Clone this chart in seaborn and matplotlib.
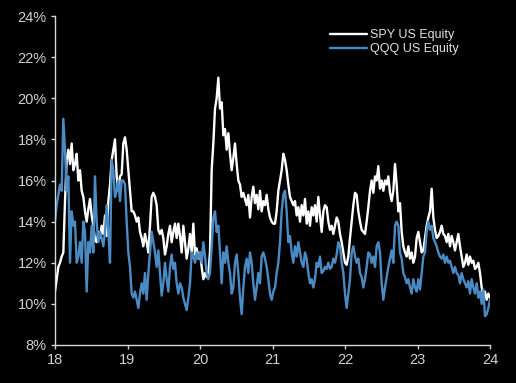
import numpy as np
import pandas as pd
import seaborn as sns
import matplotlib.pyplot as plt

# Implied volatility (%), roughly weekly from Jan-2018 to Jan-2024
spy = [10.6, 11.2, 11.8, 12.0, 12.3, 12.5, 15.0, 17.0, 17.5, 16.8, 17.8, 16.5, 16.8, 17.3, 16.0, 16.5,
       15.5, 15.2, 14.5, 14.0, 14.6, 15.1, 14.3, 13.8, 13.1, 13.0, 13.5, 13.2, 13.8, 13.4, 14.3, 13.3,
       15.0, 15.8, 17.0, 17.5, 18.0, 16.2, 15.5, 16.2, 16.3, 17.8, 18.1, 17.5, 16.5, 15.5, 14.5, 14.5,
       14.3, 14.0, 14.2, 13.5, 13.2, 12.8, 13.4, 13.0, 12.5, 13.8, 15.2, 15.4, 15.2, 14.8, 13.6, 13.4,
       13.6, 13.2, 12.4, 12.8, 13.4, 13.8, 13.0, 13.5, 13.9, 13.2, 13.9, 13.3, 12.5, 13.8, 13.0, 12.2,
       12.7, 13.4, 12.5, 13.9, 12.4, 12.7, 12.2, 12.5, 11.8, 11.2, 11.5, 11.3, 11.5, 12.5, 16.5, 17.8,
       19.5, 20.0, 21.0, 19.5, 19.8, 18.2, 18.5, 17.5, 18.3, 17.3, 16.5, 17.1, 17.8, 16.8, 16.0, 15.8,
       15.2, 15.4, 15.1, 14.8, 15.3, 14.2, 15.2, 15.7, 14.9, 15.3, 14.6, 15.5, 14.5, 15.0, 14.8, 15.3,
       14.6, 14.2, 14.0, 13.9, 13.9, 14.5, 15.5, 16.0, 16.5, 17.3, 17.0, 16.5, 15.8, 15.2, 15.0, 14.8,
       15.0, 14.3, 14.7, 14.0, 14.8, 14.3, 15.1, 13.9, 14.5, 13.8, 14.7, 14.3, 14.8, 14.0, 15.2, 14.3,
       13.5, 14.5, 14.8, 14.7, 14.0, 13.6, 13.8, 13.4, 13.8, 14.2, 14.0, 13.4, 13.0, 12.5, 12.0, 11.9,
       12.3, 13.2, 14.0, 14.8, 15.4, 15.3, 14.5, 14.0, 13.6, 13.5, 13.4, 14.0, 14.7, 15.5, 16.0, 15.4,
       16.2, 16.0, 16.7, 15.6, 16.0, 15.5, 16.0, 15.8, 16.2, 15.4, 15.0, 15.5, 16.8, 15.8, 14.5, 14.9,
       13.5, 12.8, 12.5, 12.3, 12.8, 12.2, 12.5, 12.0, 12.3, 13.2, 13.5, 13.0, 12.5, 12.6, 13.2, 13.8,
       14.2, 14.5, 15.6, 14.2, 13.6, 13.2, 13.3, 13.5, 13.8, 13.4, 13.3, 13.0, 13.4, 12.8, 13.3, 13.0,
       12.6, 13.0, 13.4, 12.8, 12.3, 11.8, 12.0, 12.4, 11.9, 12.3, 12.0, 12.1, 11.7, 11.8, 12.0, 11.5,
       10.8, 10.4, 10.6, 10.2, 10.5, 10.3]

qqq = [14.0, 14.8, 15.3, 15.8, 15.5, 19.0, 17.5, 15.5, 16.2, 12.0, 14.5, 13.8, 14.0, 12.0, 12.3, 13.0,
       12.0, 14.0, 13.5, 10.6, 13.0, 12.5, 13.8, 12.5, 16.2, 14.0, 13.0, 13.5, 13.2, 12.8, 13.5, 14.8,
       13.5, 12.0, 17.0, 16.5, 15.2, 15.5, 16.0, 15.0, 16.0, 16.0, 15.8, 14.0, 12.5, 11.8, 10.5, 10.3,
       10.6, 10.2, 9.8, 10.5, 11.0, 10.5, 11.5, 10.2, 11.5, 12.5, 13.5, 13.0, 12.5, 11.8, 12.6, 11.5,
       10.4, 11.0, 12.0, 11.2, 10.6, 11.8, 12.4, 11.7, 12.0, 11.0, 10.5, 11.0, 10.8, 10.3, 10.0, 9.7,
       10.3, 11.0, 12.5, 12.3, 12.0, 12.5, 12.2, 12.5, 12.0, 13.0, 12.3, 11.5, 11.2, 11.5, 12.8, 14.2,
       14.5, 13.5, 13.8, 12.5, 11.0, 12.5, 12.0, 12.8, 12.0, 11.5, 10.5, 10.8, 12.0, 12.4, 11.5, 10.3,
       9.5, 10.8, 11.8, 12.2, 11.5, 12.5, 12.0, 11.0, 10.2, 10.8, 11.5, 11.0, 12.3, 12.5, 12.2, 11.8,
       11.2, 10.5, 10.2, 10.6, 10.8, 11.5, 12.0, 13.0, 14.5, 15.3, 15.5, 14.5, 13.0, 13.3, 12.5, 12.0,
       12.8, 12.3, 13.0, 12.5, 12.0, 11.8, 12.5, 12.2, 11.5, 11.0, 11.2, 10.8, 11.2, 12.0, 11.8, 12.3,
       11.5, 11.6, 11.8, 11.7, 12.0, 11.7, 11.8, 12.2, 12.0, 12.4, 13.0, 12.8, 12.0, 11.5, 10.5, 9.8,
       10.5, 11.2, 12.5, 12.8, 12.3, 12.0, 12.2, 11.5, 11.3, 10.8, 11.2, 11.8, 12.5, 12.4, 12.0, 12.3,
       11.8, 12.8, 13.0, 12.5, 11.0, 10.2, 10.8, 11.3, 11.8, 12.2, 12.6, 12.0, 13.8, 14.0, 13.8, 12.5,
       12.2, 11.5, 11.3, 11.0, 11.2, 10.8, 10.5, 11.2, 10.8, 10.6, 11.2, 10.7, 11.5, 12.3, 12.5, 13.5,
       14.0, 13.6, 13.8, 13.2, 13.0, 12.8, 12.5, 12.3, 12.2, 12.4, 12.0, 12.3, 12.0, 12.1, 11.8, 11.5,
       11.8, 11.5, 11.4, 11.0, 11.5, 11.2, 11.0, 10.8, 11.1, 10.5, 11.2, 10.8, 10.5, 11.0, 10.3, 10.6,
       10.0, 10.7, 9.4, 9.5, 9.8, 10.2]

series_names = ['SPY US Equity', 'QQQ US Equity']
year_ticks = [18, 19, 20, 21, 22, 23, 24]
y_ticks = [8, 10, 12, 14, 16, 18, 20, 22, 24]

df = pd.concat([
    pd.DataFrame({'year': np.linspace(18, 24, len(spy)), 'vol': spy, 'series': series_names[0]}),
    pd.DataFrame({'year': np.linspace(18, 24, len(qqq)), 'vol': qqq, 'series': series_names[1]}),
])

sns.set_style('dark')
plt.rcParams['font.family'] = ['Liberation Sans', 'DejaVu Sans']

fig, ax = plt.subplots(figsize=(5.16, 3.83), dpi=100)
fig.patch.set_facecolor('black')
ax.set_facecolor('black')
fig.subplots_adjust(left=55/516, right=490/516, bottom=1-345/383, top=1-16/383)

sns.lineplot(data=df, x='year', y='vol', hue='series',
             palette={series_names[0]: 'white', series_names[1]: '#4a8bc4'},
             linewidth=1.7, ax=ax)

ax.set_xlim(18, 24)
ax.set_ylim(8, 24)
ax.set_xticks(year_ticks)
ax.set_xticklabels([str(y) for y in year_ticks])
ax.set_yticks(y_ticks)
ax.set_yticklabels([f'{y}%' for y in y_ticks])
ax.set_xlabel('')
ax.set_ylabel('')
ax.grid(False)

for side in ['top', 'right']:
    ax.spines[side].set_visible(False)
for side in ['left', 'bottom']:
    ax.spines[side].set_visible(True)
    ax.spines[side].set_color('#d8d8d8')
    ax.spines[side].set_linewidth(1.0)

ax.tick_params(colors='#d0d0d0', labelsize=10.5, length=3, width=1, direction='out',
               bottom=True, left=True)
ax.tick_params(axis='y', pad=3)
ax.tick_params(axis='x', pad=3)

leg = ax.legend(loc='upper right', bbox_to_anchor=(0.94, 0.975), frameon=False,
                fontsize=9, handlelength=2.9, handletextpad=0.3, labelspacing=0.15,
                borderaxespad=0)
for t in leg.get_texts():
    t.set_color('#e0e0e0')
for h in leg.get_lines():
    h.set_linewidth(1.7)

fig.savefig('out.png', dpi=100, facecolor='black')
